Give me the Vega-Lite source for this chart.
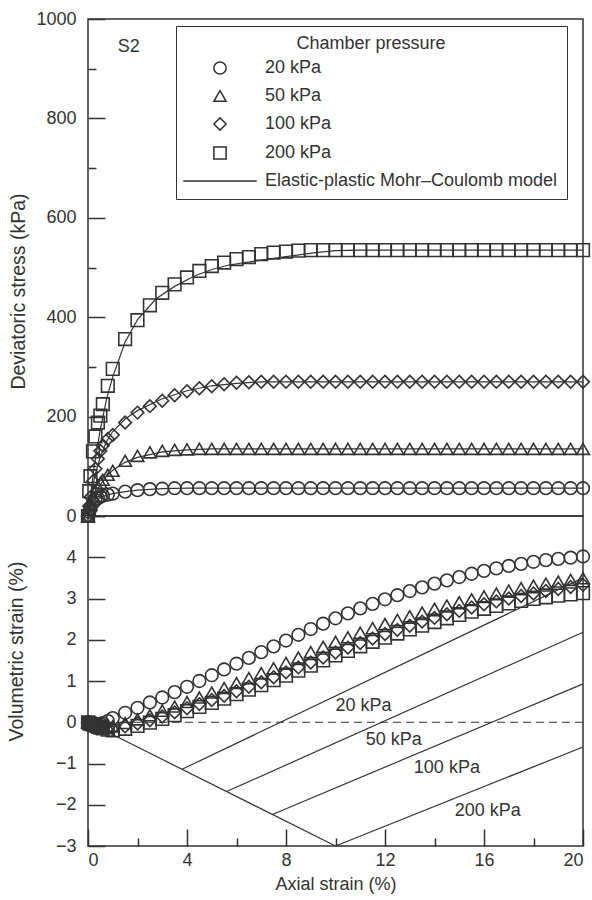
{
  "$schema": "https://vega.github.io/schema/vega-lite/v6.json",
  "padding": {"left": 5, "top": 9, "right": 5, "bottom": 5},
  "spacing": 0,
  "bounds": "flush",
  "background": "white",
  "config": {
    "font": "Liberation Sans",
    "view": {"stroke": "#333", "strokeWidth": 1.5},
    "axis": {"labelFont": "Liberation Sans", "titleFont": "Liberation Sans", "labelFontSize": 18, "titleFontSize": 18, "titleFontWeight": "normal", "labelColor": "#333", "titleColor": "#333", "tickColor": "#333", "tickWidth": 1.5, "domain": false, "grid": false},
    "legend": {"labelFont": "Liberation Sans", "titleFont": "Liberation Sans"},
    "text": {"font": "Liberation Sans"}
  },
  "datasets": {
    "pts": [
      {"p":"20 kPa","x":0,"q":0,"ev":0},{"p":"20 kPa","x":0.05,"q":8,"ev":-0.01},{"p":"20 kPa","x":0.1,"q":15,"ev":-0.02},{"p":"20 kPa","x":0.2,"q":26,"ev":-0.04},{"p":"20 kPa","x":0.3,"q":32,"ev":-0.05},{"p":"20 kPa","x":0.4,"q":36,"ev":-0.05},{"p":"20 kPa","x":0.5,"q":39,"ev":-0.04},{"p":"20 kPa","x":0.6,"q":41,"ev":-0.02},{"p":"20 kPa","x":0.8,"q":43,"ev":0.03},{"p":"20 kPa","x":1,"q":45,"ev":0.1},{"p":"20 kPa","x":1.5,"q":49,"ev":0.23},{"p":"20 kPa","x":2,"q":52,"ev":0.35},{"p":"20 kPa","x":2.5,"q":54,"ev":0.48},{"p":"20 kPa","x":3,"q":55,"ev":0.6},{"p":"20 kPa","x":3.5,"q":56,"ev":0.73},{"p":"20 kPa","x":4,"q":56,"ev":0.86},{"p":"20 kPa","x":4.5,"q":56,"ev":1.0},{"p":"20 kPa","x":5,"q":56,"ev":1.14},{"p":"20 kPa","x":5.5,"q":56,"ev":1.28},{"p":"20 kPa","x":6,"q":56,"ev":1.42},{"p":"20 kPa","x":6.5,"q":56,"ev":1.56},{"p":"20 kPa","x":7,"q":56,"ev":1.7},{"p":"20 kPa","x":7.5,"q":56,"ev":1.84},{"p":"20 kPa","x":8,"q":56,"ev":1.98},{"p":"20 kPa","x":8.5,"q":56,"ev":2.12},{"p":"20 kPa","x":9,"q":56,"ev":2.26},{"p":"20 kPa","x":9.5,"q":56,"ev":2.39},{"p":"20 kPa","x":10,"q":56,"ev":2.52},{"p":"20 kPa","x":10.5,"q":56,"ev":2.64},{"p":"20 kPa","x":11,"q":56,"ev":2.76},{"p":"20 kPa","x":11.5,"q":56,"ev":2.87},{"p":"20 kPa","x":12,"q":56,"ev":2.98},{"p":"20 kPa","x":12.5,"q":56,"ev":3.08},{"p":"20 kPa","x":13,"q":56,"ev":3.18},{"p":"20 kPa","x":13.5,"q":56,"ev":3.27},{"p":"20 kPa","x":14,"q":56,"ev":3.36},{"p":"20 kPa","x":14.5,"q":56,"ev":3.44},{"p":"20 kPa","x":15,"q":56,"ev":3.52},{"p":"20 kPa","x":15.5,"q":56,"ev":3.6},{"p":"20 kPa","x":16,"q":56,"ev":3.67},{"p":"20 kPa","x":16.5,"q":56,"ev":3.73},{"p":"20 kPa","x":17,"q":56,"ev":3.79},{"p":"20 kPa","x":17.5,"q":56,"ev":3.84},{"p":"20 kPa","x":18,"q":56,"ev":3.89},{"p":"20 kPa","x":18.5,"q":56,"ev":3.93},{"p":"20 kPa","x":19,"q":56,"ev":3.96},{"p":"20 kPa","x":19.5,"q":56,"ev":3.99},{"p":"20 kPa","x":20,"q":56,"ev":4.02},
      {"p":"50 kPa","x":0,"q":0,"ev":0},{"p":"50 kPa","x":0.05,"q":12,"ev":-0.01},{"p":"50 kPa","x":0.1,"q":22,"ev":-0.02},{"p":"50 kPa","x":0.2,"q":38,"ev":-0.04},{"p":"50 kPa","x":0.3,"q":50,"ev":-0.06},{"p":"50 kPa","x":0.4,"q":59,"ev":-0.08},{"p":"50 kPa","x":0.5,"q":67,"ev":-0.09},{"p":"50 kPa","x":0.6,"q":73,"ev":-0.1},{"p":"50 kPa","x":0.8,"q":83,"ev":-0.11},{"p":"50 kPa","x":1,"q":91,"ev":-0.1},{"p":"50 kPa","x":1.5,"q":111,"ev":-0.02},{"p":"50 kPa","x":2,"q":121,"ev":0.07},{"p":"50 kPa","x":2.5,"q":128,"ev":0.17},{"p":"50 kPa","x":3,"q":131,"ev":0.28},{"p":"50 kPa","x":3.5,"q":133,"ev":0.38},{"p":"50 kPa","x":4,"q":134,"ev":0.49},{"p":"50 kPa","x":4.5,"q":135,"ev":0.6},{"p":"50 kPa","x":5,"q":135,"ev":0.72},{"p":"50 kPa","x":5.5,"q":135,"ev":0.83},{"p":"50 kPa","x":6,"q":135,"ev":0.95},{"p":"50 kPa","x":6.5,"q":135,"ev":1.07},{"p":"50 kPa","x":7,"q":135,"ev":1.19},{"p":"50 kPa","x":7.5,"q":135,"ev":1.31},{"p":"50 kPa","x":8,"q":135,"ev":1.44},{"p":"50 kPa","x":8.5,"q":135,"ev":1.57},{"p":"50 kPa","x":9,"q":135,"ev":1.7},{"p":"50 kPa","x":9.5,"q":135,"ev":1.83},{"p":"50 kPa","x":10,"q":135,"ev":1.95},{"p":"50 kPa","x":10.5,"q":135,"ev":2.06},{"p":"50 kPa","x":11,"q":135,"ev":2.17},{"p":"50 kPa","x":11.5,"q":135,"ev":2.28},{"p":"50 kPa","x":12,"q":135,"ev":2.38},{"p":"50 kPa","x":12.5,"q":135,"ev":2.48},{"p":"50 kPa","x":13,"q":135,"ev":2.57},{"p":"50 kPa","x":13.5,"q":135,"ev":2.66},{"p":"50 kPa","x":14,"q":135,"ev":2.75},{"p":"50 kPa","x":14.5,"q":135,"ev":2.83},{"p":"50 kPa","x":15,"q":135,"ev":2.91},{"p":"50 kPa","x":15.5,"q":135,"ev":2.98},{"p":"50 kPa","x":16,"q":135,"ev":3.05},{"p":"50 kPa","x":16.5,"q":135,"ev":3.12},{"p":"50 kPa","x":17,"q":135,"ev":3.19},{"p":"50 kPa","x":17.5,"q":135,"ev":3.25},{"p":"50 kPa","x":18,"q":135,"ev":3.31},{"p":"50 kPa","x":18.5,"q":135,"ev":3.36},{"p":"50 kPa","x":19,"q":135,"ev":3.41},{"p":"50 kPa","x":19.5,"q":135,"ev":3.45},{"p":"50 kPa","x":20,"q":135,"ev":3.49},
      {"p":"100 kPa","x":0,"q":0,"ev":0},{"p":"100 kPa","x":0.05,"q":20,"ev":-0.02},{"p":"100 kPa","x":0.1,"q":38,"ev":-0.03},{"p":"100 kPa","x":0.2,"q":70,"ev":-0.05},{"p":"100 kPa","x":0.3,"q":95,"ev":-0.07},{"p":"100 kPa","x":0.4,"q":115,"ev":-0.09},{"p":"100 kPa","x":0.5,"q":131,"ev":-0.11},{"p":"100 kPa","x":0.6,"q":142,"ev":-0.12},{"p":"100 kPa","x":0.8,"q":155,"ev":-0.14},{"p":"100 kPa","x":1,"q":163,"ev":-0.14},{"p":"100 kPa","x":1.5,"q":188,"ev":-0.1},{"p":"100 kPa","x":2,"q":208,"ev":-0.03},{"p":"100 kPa","x":2.5,"q":221,"ev":0.05},{"p":"100 kPa","x":3,"q":232,"ev":0.14},{"p":"100 kPa","x":3.5,"q":243,"ev":0.24},{"p":"100 kPa","x":4,"q":251,"ev":0.34},{"p":"100 kPa","x":4.5,"q":257,"ev":0.44},{"p":"100 kPa","x":5,"q":261,"ev":0.54},{"p":"100 kPa","x":5.5,"q":265,"ev":0.64},{"p":"100 kPa","x":6,"q":268,"ev":0.75},{"p":"100 kPa","x":6.5,"q":269,"ev":0.86},{"p":"100 kPa","x":7,"q":270,"ev":0.97},{"p":"100 kPa","x":7.5,"q":270,"ev":1.09},{"p":"100 kPa","x":8,"q":270,"ev":1.21},{"p":"100 kPa","x":8.5,"q":270,"ev":1.33},{"p":"100 kPa","x":9,"q":270,"ev":1.45},{"p":"100 kPa","x":9.5,"q":270,"ev":1.57},{"p":"100 kPa","x":10,"q":270,"ev":1.69},{"p":"100 kPa","x":10.5,"q":270,"ev":1.81},{"p":"100 kPa","x":11,"q":270,"ev":1.92},{"p":"100 kPa","x":11.5,"q":270,"ev":2.03},{"p":"100 kPa","x":12,"q":270,"ev":2.14},{"p":"100 kPa","x":12.5,"q":270,"ev":2.24},{"p":"100 kPa","x":13,"q":270,"ev":2.34},{"p":"100 kPa","x":13.5,"q":270,"ev":2.44},{"p":"100 kPa","x":14,"q":270,"ev":2.53},{"p":"100 kPa","x":14.5,"q":270,"ev":2.62},{"p":"100 kPa","x":15,"q":270,"ev":2.7},{"p":"100 kPa","x":15.5,"q":270,"ev":2.78},{"p":"100 kPa","x":16,"q":270,"ev":2.86},{"p":"100 kPa","x":16.5,"q":270,"ev":2.93},{"p":"100 kPa","x":17,"q":270,"ev":3.0},{"p":"100 kPa","x":17.5,"q":270,"ev":3.06},{"p":"100 kPa","x":18,"q":270,"ev":3.12},{"p":"100 kPa","x":18.5,"q":270,"ev":3.18},{"p":"100 kPa","x":19,"q":270,"ev":3.23},{"p":"100 kPa","x":19.5,"q":270,"ev":3.28},{"p":"100 kPa","x":20,"q":270,"ev":3.33},
      {"p":"200 kPa","x":0,"q":0,"ev":0},{"p":"200 kPa","x":0.05,"q":50,"ev":-0.02},{"p":"200 kPa","x":0.1,"q":80,"ev":-0.04},{"p":"200 kPa","x":0.2,"q":130,"ev":-0.06},{"p":"200 kPa","x":0.3,"q":160,"ev":-0.08},{"p":"200 kPa","x":0.4,"q":188,"ev":-0.11},{"p":"200 kPa","x":0.5,"q":202,"ev":-0.13},{"p":"200 kPa","x":0.6,"q":225,"ev":-0.15},{"p":"200 kPa","x":0.8,"q":262,"ev":-0.18},{"p":"200 kPa","x":1,"q":296,"ev":-0.2},{"p":"200 kPa","x":1.5,"q":356,"ev":-0.16},{"p":"200 kPa","x":2,"q":394,"ev":-0.09},{"p":"200 kPa","x":2.5,"q":424,"ev":-0.01},{"p":"200 kPa","x":3,"q":449,"ev":0.08},{"p":"200 kPa","x":3.5,"q":466,"ev":0.17},{"p":"200 kPa","x":4,"q":480,"ev":0.27},{"p":"200 kPa","x":4.5,"q":493,"ev":0.37},{"p":"200 kPa","x":5,"q":503,"ev":0.47},{"p":"200 kPa","x":5.5,"q":510,"ev":0.57},{"p":"200 kPa","x":6,"q":517,"ev":0.68},{"p":"200 kPa","x":6.5,"q":521,"ev":0.79},{"p":"200 kPa","x":7,"q":527,"ev":0.9},{"p":"200 kPa","x":7.5,"q":530,"ev":1.02},{"p":"200 kPa","x":8,"q":532,"ev":1.13},{"p":"200 kPa","x":8.5,"q":534,"ev":1.25},{"p":"200 kPa","x":9,"q":535,"ev":1.37},{"p":"200 kPa","x":9.5,"q":535,"ev":1.5},{"p":"200 kPa","x":10,"q":535,"ev":1.62},{"p":"200 kPa","x":10.5,"q":535,"ev":1.73},{"p":"200 kPa","x":11,"q":535,"ev":1.84},{"p":"200 kPa","x":11.5,"q":535,"ev":1.95},{"p":"200 kPa","x":12,"q":535,"ev":2.05},{"p":"200 kPa","x":12.5,"q":535,"ev":2.15},{"p":"200 kPa","x":13,"q":535,"ev":2.25},{"p":"200 kPa","x":13.5,"q":535,"ev":2.34},{"p":"200 kPa","x":14,"q":535,"ev":2.43},{"p":"200 kPa","x":14.5,"q":535,"ev":2.52},{"p":"200 kPa","x":15,"q":535,"ev":2.6},{"p":"200 kPa","x":15.5,"q":535,"ev":2.68},{"p":"200 kPa","x":16,"q":535,"ev":2.75},{"p":"200 kPa","x":16.5,"q":535,"ev":2.82},{"p":"200 kPa","x":17,"q":535,"ev":2.88},{"p":"200 kPa","x":17.5,"q":535,"ev":2.94},{"p":"200 kPa","x":18,"q":535,"ev":2.99},{"p":"200 kPa","x":18.5,"q":535,"ev":3.03},{"p":"200 kPa","x":19,"q":535,"ev":3.07},{"p":"200 kPa","x":19.5,"q":535,"ev":3.1},{"p":"200 kPa","x":20,"q":535,"ev":3.13}
    ],
    "model": [
      {"p":"20 kPa","x":0,"q":0},{"p":"20 kPa","x":0.1,"q":15},{"p":"20 kPa","x":0.2,"q":24},{"p":"20 kPa","x":0.3,"q":30},{"p":"20 kPa","x":0.5,"q":37},{"p":"20 kPa","x":0.75,"q":42},{"p":"20 kPa","x":1,"q":45},{"p":"20 kPa","x":1.5,"q":49},{"p":"20 kPa","x":2,"q":52},{"p":"20 kPa","x":3,"q":55},{"p":"20 kPa","x":4,"q":56},{"p":"20 kPa","x":20,"q":56},
      {"p":"50 kPa","x":0,"q":0},{"p":"50 kPa","x":0.1,"q":20},{"p":"50 kPa","x":0.2,"q":35},{"p":"50 kPa","x":0.3,"q":46},{"p":"50 kPa","x":0.5,"q":63},{"p":"50 kPa","x":0.75,"q":80},{"p":"50 kPa","x":1,"q":92},{"p":"50 kPa","x":1.5,"q":108},{"p":"50 kPa","x":2,"q":118},{"p":"50 kPa","x":3,"q":129},{"p":"50 kPa","x":4,"q":133},{"p":"50 kPa","x":5,"q":135},{"p":"50 kPa","x":20,"q":135},
      {"p":"100 kPa","x":0,"q":0},{"p":"100 kPa","x":0.1,"q":35},{"p":"100 kPa","x":0.2,"q":62},{"p":"100 kPa","x":0.3,"q":85},{"p":"100 kPa","x":0.5,"q":120},{"p":"100 kPa","x":0.75,"q":150},{"p":"100 kPa","x":1,"q":170},{"p":"100 kPa","x":1.5,"q":195},{"p":"100 kPa","x":2,"q":212},{"p":"100 kPa","x":3,"q":236},{"p":"100 kPa","x":4,"q":252},{"p":"100 kPa","x":5,"q":262},{"p":"100 kPa","x":6,"q":267},{"p":"100 kPa","x":7,"q":270},{"p":"100 kPa","x":20,"q":270},
      {"p":"200 kPa","x":0,"q":0},{"p":"200 kPa","x":0.25,"q":100},{"p":"200 kPa","x":0.5,"q":175},{"p":"200 kPa","x":0.75,"q":235},{"p":"200 kPa","x":1,"q":280},{"p":"200 kPa","x":1.5,"q":350},{"p":"200 kPa","x":2,"q":395},{"p":"200 kPa","x":2.75,"q":437},{"p":"200 kPa","x":3.5,"q":462},{"p":"200 kPa","x":4.3,"q":483},{"p":"200 kPa","x":5,"q":496},{"p":"200 kPa","x":5.7,"q":505},{"p":"200 kPa","x":7,"q":515},{"p":"200 kPa","x":8,"q":522},{"p":"200 kPa","x":9.2,"q":530},{"p":"200 kPa","x":10,"q":534},{"p":"200 kPa","x":11,"q":535},{"p":"200 kPa","x":20,"q":535}
    ],
    "vl": [
      {"s":"dilatancy","x":0,"ev":0},{"s":"dilatancy","x":10,"ev":-3},
      {"s":"20 kPa","x":3.8,"ev":-1.14},{"s":"20 kPa","x":20,"ev":3.5},
      {"s":"50 kPa","x":5.6,"ev":-1.68},{"s":"50 kPa","x":20,"ev":2.18},
      {"s":"100 kPa","x":7.45,"ev":-2.235},{"s":"100 kPa","x":20,"ev":0.93},
      {"s":"200 kPa","x":10,"ev":-3},{"s":"200 kPa","x":20,"ev":-0.6}
    ],
    "ann": [
      {"t":"20 kPa","x":11.13,"ev":0.39},{"t":"50 kPa","x":12.35,"ev":-0.42},{"t":"100 kPa","x":14.5,"ev":-1.1},{"t":"200 kPa","x":16.15,"ev":-2.14}
    ]
  },
  "resolve": {"scale": {"shape": "independent"}, "legend": {"shape": "independent"}},
  "vconcat": [
    {
      "width": 495,
      "height": 497,
      "layer": [
        {
          "data": {"name": "model"},
          "mark": {"type": "line", "stroke": "#333", "strokeWidth": 1.2},
          "encoding": {
            "x": {"field": "x", "type": "quantitative", "scale": {"domain": [0, 20], "nice": false}, "axis": null},
            "y": {"field": "q", "type": "quantitative", "scale": {"domain": [0, 1000], "nice": false},
              "axis": {"values": [0,100,200,300,400,500,600,700,800,900,1000], "format": "d",
                "labelExpr": "datum.value % 200 === 0 ? datum.label : ''",
                "tickSize": {"condition": {"test": "datum.value % 200 === 0", "value": -17}, "value": -8},
                "labelPadding": 29, "title": "Deviatoric stress (kPa)", "titlePadding": 7, "titleFontSize": 19.5, "titleY": 272}},
            "detail": {"field": "p"}
          }
        },
        {
          "data": {"name": "pts"},
          "mark": {"type": "point", "filled": false, "stroke": "#333", "strokeWidth": 1.6, "size": 160, "opacity": 1},
          "encoding": {
            "x": {"field": "x", "type": "quantitative"},
            "y": {"field": "q", "type": "quantitative"},
            "shape": {"field": "p", "type": "nominal",
              "scale": {"domain": ["20 kPa", "50 kPa", "100 kPa", "200 kPa", "Elastic-plastic Mohr–Coulomb model"], "range": ["circle", "triangle-up", "diamond", "square", "M-6,0H6"]},
              "legend": {"orient": "none", "legendX": 88, "legendY": 7, "title": "Chamber pressure", "titleAnchor": "middle",
                "titleFontSize": 18, "titleFontWeight": "normal", "titleColor": "#333", "titlePadding": 6,
                "labelFontSize": 18, "labelColor": "#333", "labelOffset": 36, "labelLimit": 400,
                "symbolSize": 150, "symbolOffset": 26, "symbolStrokeWidth": 1.5, "symbolStrokeColor": "#333", "symbolFillColor": "transparent",
                "strokeColor": "#333", "padding": 9, "rowPadding": 9}}
          }
        },
        {
          "data": {"values": [{"t": "S2", "x": 1.65, "q": 944}]},
          "mark": {"type": "text", "fontSize": 18, "color": "#333", "align": "center", "baseline": "middle"},
          "encoding": {
            "x": {"field": "x", "type": "quantitative"},
            "y": {"field": "q", "type": "quantitative"},
            "text": {"field": "t"}
          }
        }
      ]
    },
    {
      "width": 495,
      "height": 330,
      "layer": [
        {
          "data": {"values": [{"z": 0}]},
          "mark": {"type": "rule", "stroke": "#333", "strokeWidth": 1.2, "strokeDash": [8, 5]},
          "encoding": {"y": {"field": "z", "type": "quantitative"}}
        },
        {
          "data": {"name": "vl"},
          "mark": {"type": "line", "stroke": "#333", "strokeWidth": 1.2},
          "encoding": {
            "x": {"field": "x", "type": "quantitative", "scale": {"domain": [0, 20], "nice": false},
              "axis": {"values": [0,2,4,6,8,10,12,14,16,18,20],
                "labelExpr": "datum.value % 4 === 0 ? datum.label : ''",
                "tickSize": {"condition": {"test": "datum.value % 4 === 0", "value": -17}, "value": -8},
                "labelPadding": 22, "title": "Axial strain (%)", "titlePadding": 6}},
            "y": {"field": "ev", "type": "quantitative", "scale": {"domain": [-3, 5], "nice": false},
              "axis": {"values": [-3,-2.5,-2,-1.5,-1,-0.5,0,0.5,1,1.5,2,2.5,3,3.5,4,4.5,5],
                "labelExpr": "datum.value % 1 === 0 && datum.value < 5 ? replace(format(datum.value, 'd'), '-', '−') : ''",
                "tickSize": {"condition": {"test": "datum.value % 1 === 0", "value": -17}, "value": -8},
                "labelPadding": 29, "title": "Volumetric strain (%)", "titlePadding": 29, "titleFontSize": 19.5, "titleY": 135}},
            "detail": {"field": "s"}
          }
        },
        {
          "data": {"name": "pts"},
          "mark": {"type": "point", "filled": false, "stroke": "#333", "strokeWidth": 1.6, "size": 160, "opacity": 1},
          "encoding": {
            "x": {"field": "x", "type": "quantitative"},
            "y": {"field": "ev", "type": "quantitative"},
            "shape": {"field": "p", "type": "nominal",
              "scale": {"domain": ["20 kPa", "50 kPa", "100 kPa", "200 kPa"], "range": ["circle", "triangle-up", "diamond", "square"]},
              "legend": null}
          }
        },
        {
          "data": {"name": "ann"},
          "mark": {"type": "text", "fontSize": 18, "color": "#333", "align": "center", "baseline": "middle"},
          "encoding": {
            "x": {"field": "x", "type": "quantitative"},
            "y": {"field": "ev", "type": "quantitative"},
            "text": {"field": "t"}
          }
        }
      ]
    }
  ]
}
